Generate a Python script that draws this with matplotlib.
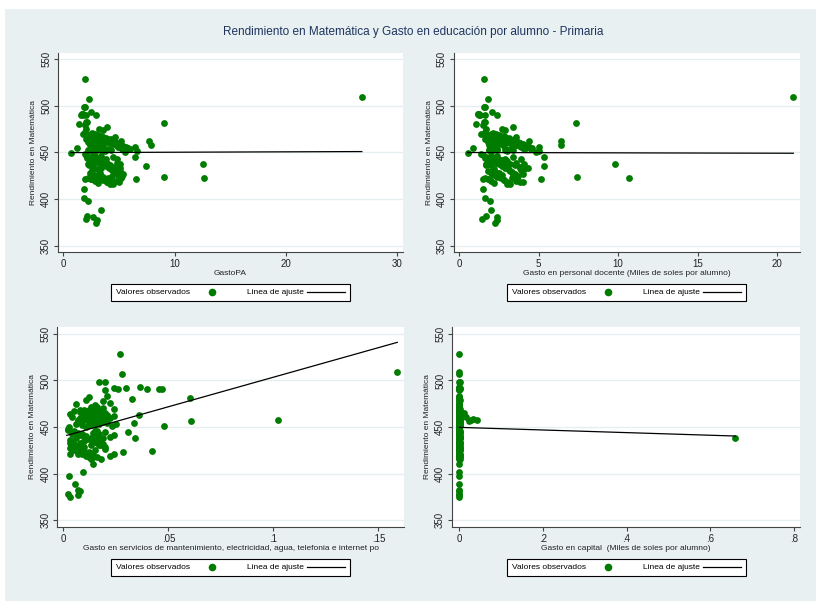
import matplotlib.pyplot as plt
from matplotlib.lines import Line2D
from matplotlib.patches import Rectangle

# rendimiento en matematica (shared y) and the four spending measures
rendimiento = [529, 507, 509, 498.5, 498.5, 491.5, 490.5, 491.5, 493, 490.5, 491, 490.5, 489.8,
               481.5, 480, 483, 482.6, 479, 477.5, 475.5, 474.7, 473.5, 469.5, 472,
               462.5, 457.5, 454.7, 449.6, 451, 445, 456, 437.8, 435.4, 424, 423, 421,
               410.5, 401.4, 397.5, 388.5, 382, 381, 378.3, 377, 374.5,
               # upper cluster
               468, 466, 465, 464, 463, 462, 461, 460, 459, 458, 457, 456, 455, 454, 453, 452,
               468, 466, 464, 462, 460, 458, 456, 454, 452, 467, 463, 459, 455, 451,
               470, 466, 462, 458, 454, 465, 461, 457, 453, 450, 464, 460, 456, 452,
               471, 469, 467, 465, 463, 461, 459, 457, 455, 453,
               470, 468, 466, 464, 462, 460, 458, 456, 454, 452, 466, 462, 458, 460, 464,
               # lower cluster
               447, 445, 443, 441, 439, 437, 435, 433, 431, 429, 427, 425, 423, 421, 419, 417,
               446, 442, 438, 434, 430, 426, 422, 418, 444, 440, 436, 432, 428, 424, 420, 416,
               448, 443, 438, 433, 428, 423, 418, 446, 436, 426, 419, 441, 431, 421,
               446, 444, 442, 440, 438, 436, 434, 432, 430, 428, 426, 424, 422, 420, 418, 416,
               445, 439, 433, 427, 421, 443, 437, 431, 425]

gasto_pa = [1.9, 2.3, 26.8, 1.9, 1.85, 1.65, 1.8, 1.75, 2.45, 2.9, 1.7, 2.0, 1.6,
            9.0, 1.4, 2.0, 2.1, 1.9, 3.95, 2.0, 3.2, 3.6, 1.8, 1.9,
            7.7, 7.9, 1.2, 0.69, 6.6, 6.4, 6.4, 12.5, 7.4, 9.0, 12.6, 6.5,
            1.85, 1.85, 2.25, 3.35, 2.15, 2.7, 2.0, 3.05, 2.9,
            2.1, 2.4, 2.7, 3.0, 3.3, 3.6, 3.9, 4.2, 4.5, 4.8, 5.1, 5.4, 5.7, 6.0, 2.2, 2.6,
            3.1, 3.5, 3.8, 4.1, 4.4, 4.7, 5.0, 5.3, 3.4, 2.3, 2.9, 3.2, 2.8, 3.7,
            2.5, 4.6, 5.2, 2.4, 4.0, 3.3, 2.2, 3.6, 4.3, 5.5, 2.0, 2.7, 4.9, 3.0,
            2.6, 3.0, 3.4, 3.8, 4.2, 4.6, 5.0, 5.4, 5.8, 2.4,
            2.8, 3.2, 3.6, 4.0, 4.4, 4.8, 5.2, 5.6, 3.0, 3.8, 2.3, 2.5, 2.9, 3.5, 4.3,
            2.0, 2.3, 2.6, 2.9, 3.2, 3.5, 3.8, 4.1, 4.4, 4.7, 5.0, 5.3, 2.2, 2.5, 2.8, 3.1,
            3.4, 3.7, 4.0, 4.3, 4.6, 4.9, 5.2, 3.9, 2.1, 2.4, 2.7, 3.0, 3.3, 3.6, 4.2, 4.5,
            1.9, 4.8, 5.1, 3.4, 2.6, 4.0, 5.0, 2.8, 2.3, 3.1, 4.7, 3.6, 4.4, 1.9,
            2.7, 3.0, 3.3, 3.6, 3.9, 4.2, 4.5, 4.8, 5.1, 2.4, 2.7, 3.0, 3.3, 3.6, 3.9, 4.2,
            4.5, 4.8, 5.1, 5.4, 2.5, 3.8, 2.2, 2.6, 4.4]

gasto_docente = [1.57, 1.78, 21.03, 1.55, 1.6, 1.15, 1.3, 1.25, 2.05, 2.35, 1.2, 1.6, 1.25,
                 7.35, 1.07, 1.57, 1.6, 1.5, 3.4, 1.7, 2.7, 2.9, 1.4, 1.6,
                 6.4, 6.4, 0.84, 0.52, 5.04, 5.35, 5.04, 9.8, 5.35, 7.4, 10.66, 5.14,
                 1.5, 1.6, 1.93, 2.0, 1.7, 2.4, 1.43, 2.4, 2.25,
                 1.8, 2.0, 2.2, 2.4, 2.6, 2.8, 3.0, 3.2, 3.4, 3.6, 3.8, 4.0, 4.2, 4.5, 1.9, 2.1,
                 2.5, 2.7, 3.1, 3.3, 3.5, 3.7, 3.9, 4.1, 2.9, 1.7, 2.3, 2.6, 2.2, 3.0,
                 2.0, 3.6, 4.4, 1.9, 3.2, 2.7, 1.8, 2.8, 3.4, 4.8, 1.6, 2.1, 4.3, 2.4,
                 2.1, 2.5, 2.8, 3.1, 3.4, 3.7, 4.0, 4.3, 4.6, 1.9,
                 2.3, 2.6, 2.9, 3.2, 3.5, 3.8, 4.1, 4.4, 2.4, 3.0, 1.8, 2.0, 2.3, 2.8, 3.5,
                 1.5, 1.7, 1.9, 2.1, 2.3, 2.5, 2.7, 2.9, 3.1, 3.3, 3.5, 3.7, 1.6, 1.8, 2.0, 2.2,
                 2.4, 2.6, 2.8, 3.0, 3.2, 3.4, 3.6, 3.8, 1.6, 1.8, 2.0, 2.2, 2.4, 2.6, 2.8, 3.0,
                 1.4, 3.9, 4.1, 4.3, 2.5, 3.3, 4.0, 2.0, 1.7, 2.7, 3.6, 3.0, 3.9, 1.5,
                 2.0, 2.3, 2.6, 2.9, 3.2, 3.5, 3.8, 4.1, 1.8, 2.0, 2.2, 2.4, 2.6, 2.8, 3.0, 3.2,
                 3.4, 3.6, 3.8, 4.0, 1.9, 2.9, 1.7, 2.1, 3.5]

gasto_servicios = [0.027, 0.028, 0.159, 0.017, 0.020, 0.024, 0.026, 0.030, 0.0365, 0.0397, 0.0456, 0.047, 0.020,
                   0.0605, 0.0329, 0.021, 0.012, 0.011, 0.019, 0.022, 0.006, 0.015, 0.024, 0.016,
                   0.036, 0.102, 0.0336, 0.0027, 0.048, 0.031, 0.061, 0.034, 0.010, 0.0424, 0.0286, 0.024,
                   0.014, 0.0092, 0.0027, 0.0056, 0.0068, 0.008, 0.002, 0.007, 0.003,
                   0.008, 0.010, 0.012, 0.014, 0.016, 0.018, 0.020, 0.022, 0.011, 0.013, 0.015, 0.017, 0.019, 0.021, 0.006, 0.009,
                   0.012, 0.014, 0.016, 0.018, 0.010, 0.012, 0.014, 0.016, 0.013, 0.005, 0.011, 0.017, 0.009, 0.023,
                   0.015, 0.019, 0.024, 0.007, 0.013, 0.020, 0.004, 0.018, 0.025, 0.011, 0.003, 0.008, 0.016, 0.012,
                   0.013, 0.015, 0.017, 0.019, 0.021, 0.009, 0.011, 0.013, 0.015, 0.017,
                   0.019, 0.010, 0.008, 0.011, 0.014, 0.017, 0.020, 0.007, 0.012, 0.015, 0.018, 0.021, 0.009, 0.013, 0.010,
                   0.002, 0.004, 0.006, 0.008, 0.010, 0.012, 0.014, 0.016, 0.018, 0.020, 0.003, 0.005, 0.007, 0.009, 0.011, 0.013,
                   0.015, 0.017, 0.019, 0.004, 0.006, 0.008, 0.010, 0.012, 0.014, 0.016, 0.003, 0.005, 0.007, 0.009, 0.011, 0.013,
                   0.002, 0.004, 0.006, 0.008, 0.010, 0.012, 0.014, 0.016, 0.018, 0.020, 0.022, 0.024, 0.017, 0.003,
                   0.005, 0.007, 0.009, 0.011, 0.013, 0.015, 0.017, 0.019, 0.004, 0.006, 0.008, 0.010, 0.012, 0.014, 0.016, 0.018,
                   0.020, 0.022, 0.003, 0.005, 0.007, 0.009, 0.011, 0.013, 0.015]

gasto_capital = [0.0, 0.0, 0.0, 0.0, 0.001, 0.0, 0.0, 0.001, 0.0, 0.0, 0.002, 0.0, 0.0,
                 0.0, 0.0, 0.0, 0.0, 0.001, 0.0, 0.0, 0.0, 0.0, 0.0, 0.0,
                 0.003, 0.0, 0.0, 0.0, 0.0, 0.0, 0.0, 0.66, 0.0, 0.0, 0.0, 0.0,
                 0.0, 0.0, 0.0, 0.0, 0.0, 0.0, 0.0, 0.0, 0.0,
                 0.0, 0.001, 0.0, 0.002, 0.0, 0.001, 0.0, 0.0, 0.002, 0.043, 0.0, 0.024, 0.0, 0.001, 0.0, 0.0,
                 0.0, 0.001, 0.0, 0.0, 0.002, 0.0, 0.0, 0.001, 0.0, 0.0, 0.0, 0.033, 0.0, 0.001,
                 0.0, 0.0, 0.001, 0.0, 0.0, 0.011, 0.016, 0.029, 0.0, 0.0, 0.0, 0.002, 0.0, 0.0,
                 0.0, 0.001, 0.0, 0.002, 0.0, 0.0, 0.001, 0.0, 0.0, 0.002,
                 0.0, 0.0, 0.001, 0.0, 0.0, 0.002, 0.0, 0.0, 0.001, 0.0, 0.0, 0.0, 0.001, 0.0, 0.0,
                 0.0, 0.001, 0.0, 0.0, 0.002, 0.0, 0.0, 0.001, 0.0, 0.0, 0.0, 0.002, 0.0, 0.0, 0.001, 0.0,
                 0.0, 0.0, 0.001, 0.0, 0.0, 0.002, 0.0, 0.0, 0.001, 0.0, 0.0, 0.0, 0.002, 0.0, 0.0, 0.001,
                 0.0, 0.0, 0.001, 0.0, 0.0, 0.0, 0.002, 0.0, 0.0, 0.001, 0.0, 0.0, 0.0, 0.0,
                 0.001, 0.0, 0.0, 0.002, 0.0, 0.0, 0.001, 0.0, 0.0, 0.0, 0.002, 0.0, 0.0, 0.001, 0.0, 0.0,
                 0.0, 0.001, 0.0, 0.0, 0.002, 0.0, 0.0, 0.001, 0.0]

# fitted lines (end points)
fit_pa = ([0.69, 26.8], [449.7, 450.8])
fit_docente = ([0.52, 21.03], [449.8, 449.0])
fit_servicios = ([0.0016, 0.159], [441.0, 541.0])
fit_capital = ([0.0, 0.66], [449.6, 440.3])

xticks_pa = [0, 10, 20, 30]
xticks_docente = [0, 5, 10, 15, 20]
xticks_servicios = [0, 0.05, 0.1, 0.15]
xticklabels_servicios = ['0', '.05', '.1', '.15']
xticks_capital = [0, 0.2, 0.4, 0.6, 0.8]
xticklabels_capital = ['0', '.2', '.4', '.6', '.8']
yticks = [350, 400, 450, 500, 550]

titulo = 'Rendimiento en Matemática y Gasto en educación por alumno - Primaria'

W, H = 816, 601
plt.rcParams['font.family'] = ['Liberation Sans', 'DejaVu Sans']
fig = plt.figure(figsize=(W / 100, H / 100), dpi=100)

bg = '#e9f0f2'
green = '#007d00'
axis_col = '#444444'


def px_rect(l, t, r, b):
    return [l / W, 1 - b / H, (r - l) / W, (b - t) / H]


fig.add_artist(Rectangle((5 / W, 0), 1 - 5 / W, 1 - 9 / H, transform=fig.transFigure,
                         facecolor=bg, edgecolor='none', zorder=0))
fig.text(413 / W, 1 - 32 / H, titulo, ha='center', va='center', fontsize=8.5, color='#1f3560')

panels = [
    dict(rect=(58, 53, 403, 252), x=gasto_pa, fit=fit_pa, xlim=(-0.48, 30.5),
         ylim=(343.2, 556.4), xt=xticks_pa, xtl=[str(t) for t in xticks_pa],
         xlabel='GastoPA', leg=(111, 283, 350, 302)),
    dict(rect=(453.7, 53, 800, 252), x=gasto_docente, fit=fit_docente, xlim=(-0.35, 21.45),
         ylim=(343.2, 556.4), xt=xticks_docente, xtl=[str(t) for t in xticks_docente],
         xlabel='Gasto en personal docente (Miles de soles por alumno)', leg=(507, 283, 746, 302)),
    dict(rect=(57.3, 327, 404, 527), x=gasto_servicios, fit=fit_servicios, xlim=(-0.0029, 0.1622),
         ylim=(342.5, 557.5), xt=xticks_servicios, xtl=xticklabels_servicios,
         xlabel='Gasto en servicios de mantenimiento, electricidad, agua, telefonia e internet po',
         leg=(111, 558, 350, 577)),
    dict(rect=(452, 327, 800, 527), x=gasto_capital, fit=fit_capital, xlim=(-0.0175, 0.815),
         ylim=(342.5, 557.5), xt=xticks_capital, xtl=xticklabels_capital,
         xlabel='Gasto en capital  (Miles de soles por alumno)', leg=(507, 558, 746, 577)),
]

for p in panels:
    ax = fig.add_axes(px_rect(*p['rect']))
    ax.set_facecolor('white')
    ax.scatter(p['x'], rendimiento, s=24, color=green, linewidths=0, zorder=3)
    ax.plot(p['fit'][0], p['fit'][1], color='black', lw=0.9, zorder=4)
    ax.set_xlim(*p['xlim'])
    ax.set_ylim(*p['ylim'])
    ax.set_yticks(yticks)
    ax.set_yticklabels([str(t) for t in yticks], rotation=90, va='center')
    ax.set_xticks(p['xt'])
    ax.set_xticklabels(p['xtl'])
    ax.grid(axis='y', color='#e6eef0', lw=1)
    ax.set_axisbelow(True)
    for s in ['top', 'right']:
        ax.spines[s].set_visible(False)
    for s in ['left', 'bottom']:
        ax.spines[s].set_color(axis_col)
        ax.spines[s].set_linewidth(0.8)
    ax.tick_params(direction='out', length=3, width=0.8, labelsize=7, colors=axis_col,
                   labelcolor='#222222', pad=2)
    ax.set_xlabel(p['xlabel'], fontsize=6, labelpad=1, color='#222222')
    ax.set_ylabel('Rendimiento en Matemática', fontsize=6, labelpad=3, color='#222222')

    l, t, r, b = p['leg']
    handles = [Line2D([], [], ls='none', marker='o', ms=5.5, color=green, markeredgewidth=0),
               Line2D([], [], color='black', lw=0.9)]
    leg = ax.legend(handles, ['Valores observados', 'Linea de ajuste'], ncol=2, markerfirst=False,
                    loc='center', bbox_to_anchor=(l / W, 1 - b / H, (r - l) / W, (b - t) / H),
                    bbox_transform=fig.transFigure, mode='expand', fontsize=6, handlelength=4.6,
                    handletextpad=0.3, columnspacing=1.5, borderaxespad=0, borderpad=0.6,
                    fancybox=False, framealpha=1, edgecolor='black')
    leg.get_frame().set_linewidth(0.8)

fig.savefig('out.png', dpi=100, facecolor='white')
